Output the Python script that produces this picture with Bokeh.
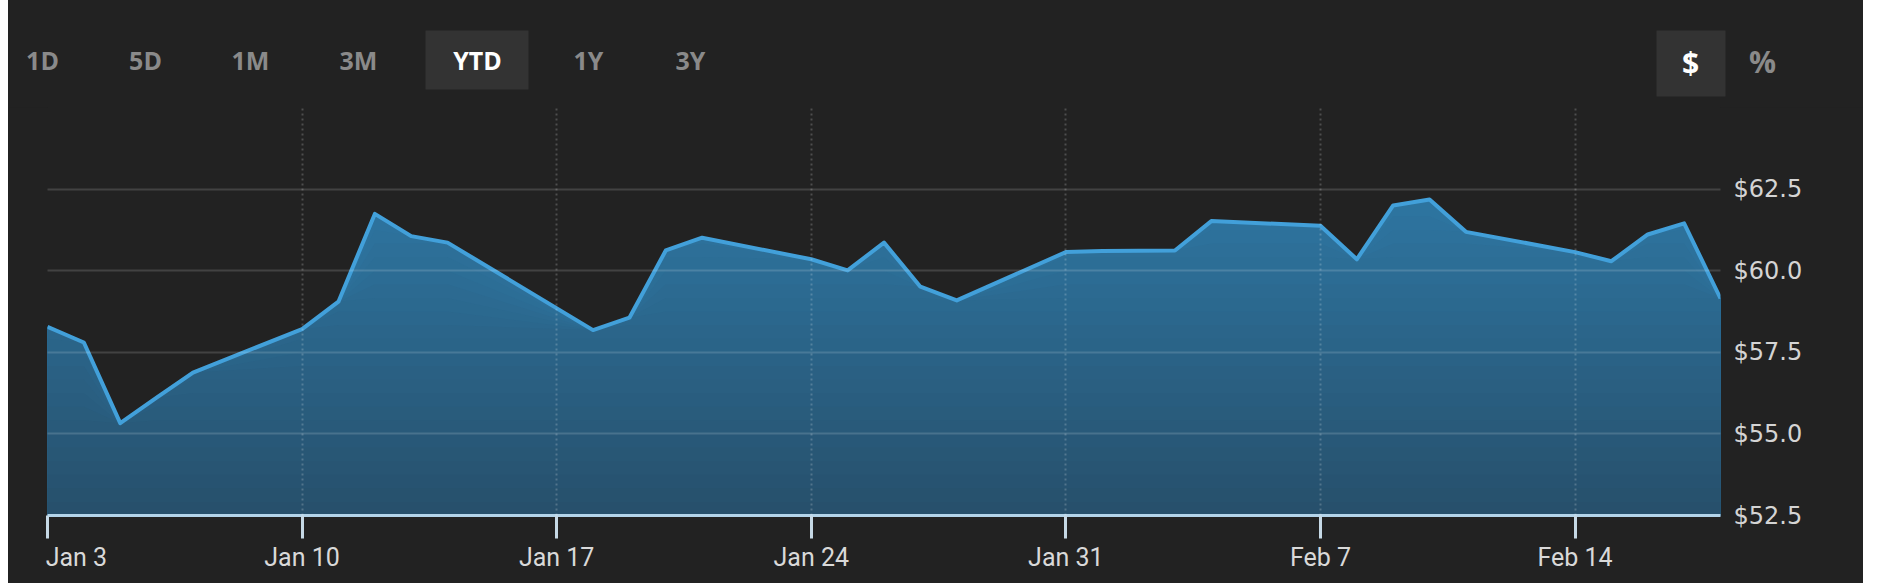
import numpy as np
import pandas as pd
from bokeh.plotting import figure
from bokeh.models import (Range1d, FixedTicker, DatetimeTickFormatter, NumeralTickFormatter,
                          LinearAxis)
from bokeh.core.properties import value
from bokeh.embed import file_html
from bokeh.resources import INLINE

# ---------------- data ----------------
dates = ["2022-01-03", "2022-01-04", "2022-01-05", "2022-01-06", "2022-01-07",
         "2022-01-10", "2022-01-11", "2022-01-12", "2022-01-13", "2022-01-14",
         "2022-01-18", "2022-01-19", "2022-01-20", "2022-01-21",
         "2022-01-24", "2022-01-25", "2022-01-26", "2022-01-27", "2022-01-28",
         "2022-01-31", "2022-02-01", "2022-02-02", "2022-02-03", "2022-02-04",
         "2022-02-07", "2022-02-08", "2022-02-09", "2022-02-10", "2022-02-11",
         "2022-02-14", "2022-02-15", "2022-02-16", "2022-02-17", "2022-02-18"]
prices = [58.28, 57.80, 55.33, 56.11, 56.88,
          58.21, 59.05, 61.74, 61.06, 60.86,
          58.18, 58.56, 60.62, 61.01,
          60.35, 60.01, 60.86, 59.51, 59.09,
          60.57, 60.60, 60.61, 60.62, 61.52,
          61.38, 60.35, 62.00, 62.18, 61.19,
          60.57, 60.29, 61.11, 61.45, 59.15]
x_tick_dates = ["2022-01-03", "2022-01-10", "2022-01-17", "2022-01-24",
                "2022-01-31", "2022-02-07", "2022-02-14"]
x_tick_labels = ["Jan 3", "Jan 10", "Jan 17", "Jan 24", "Jan 31", "Feb 7", "Feb 14"]
y_grid_values = [52.5, 55.0, 57.5, 60.0, 62.5, 65.0]
y_tick_values = [52.5, 55.0, 57.5, 60.0, 62.5]
range_buttons = ["1D", "5D", "1M", "3M", "YTD", "1Y", "3Y"]
active_range = "YTD"
unit_buttons = ["$", "%"]
active_unit = "$"

x = pd.to_datetime(dates)
y = np.array(prices)
y_lo, y_hi = y_grid_values[0], y_grid_values[-1]
x_ticks_ms = [pd.Timestamp(d).value / 1e6 for d in x_tick_dates]

BG = "#222222"
LEFT = 8            # page margin on the left
W = 1855            # width of the dark panel
HEAD_H = 107

# ---------------- header with the selector buttons (page pixel coordinates) ----------------
head = figure(width=W, height=HEAD_H, output_backend="svg", toolbar_location=None,
              x_range=Range1d(LEFT, LEFT + W), y_range=Range1d(HEAD_H, 0),
              x_axis_location=None, y_axis_location=None,
              min_border_left=0, min_border_right=0, min_border_top=0, min_border_bottom=0)
head.background_fill_color = BG
head.border_fill_color = BG
head.outline_line_color = None
head.xgrid.visible = False
head.ygrid.visible = False

btn_cx = [42, 145, 250, 358, 477, 588, 690]
head.quad(left=[425, 1656], right=[528, 1725], top=[30, 30], bottom=[89, 96],
          fill_color="#333333", line_color=None)
head.text(x=btn_cx, y=[59] * len(range_buttons), text=range_buttons,
          text_color=["#ffffff" if b == active_range else "#8a8a8a" for b in range_buttons],
          text_align="center", text_baseline="middle",
          text_font=value("Open Sans"), text_font_style="bold", text_font_size="25px")
head.text(x=[1690, 1762], y=[62, 61], text=unit_buttons,
          text_color=["#ffffff" if b == active_unit else "#8a8a8a" for b in unit_buttons],
          text_align="center", text_baseline="middle",
          text_font=value("Open Sans"), text_font_style="bold", text_font_size="30px")

# ---------------- main chart ----------------
p = figure(width=W, height=583 - HEAD_H, x_axis_type="datetime", output_backend="svg",
           toolbar_location=None, y_axis_location=None,
           x_range=Range1d(x[0], x[-1]), y_range=Range1d(y_lo, y_hi),
           min_border_left=47 - LEFT, min_border_right=LEFT + W - 1720,
           min_border_top=0, min_border_bottom=68)
p.background_fill_color = BG
p.border_fill_color = BG
p.outline_line_color = None

# gradient area: full area in the light top colour, then darker slices from below
top_c = np.array([0x30, 0x80, 0xb0])
bot_c = np.array([0x27, 0x4f, 0x6a])
n_bands = 30
levels = np.linspace(y_hi, y_lo, n_bands + 1)[:-1]
for lev in levels:
    t = (lev - y_lo) / (y_hi - y_lo)
    c = (bot_c + (top_c - bot_c) * t).astype(int)
    col = "#%02x%02x%02x" % tuple(c)
    p.varea(x=x, y1=y_lo, y2=np.minimum(y, lev), fill_color=col, fill_alpha=1.0)

p.line(x=x, y=y, line_color="#42a0da", line_width=4, line_join="round")

# grids
p.ygrid.ticker = FixedTicker(ticks=y_grid_values)
p.ygrid.grid_line_color = "#ffffff"
p.ygrid.grid_line_alpha = 0.15
p.ygrid.grid_line_width = 2
p.ygrid.level = "overlay"
p.xgrid.ticker = FixedTicker(ticks=x_ticks_ms)
p.xgrid.grid_line_color = "#ffffff"
p.xgrid.grid_line_alpha = 0.2
p.xgrid.grid_line_width = 2
p.xgrid.grid_line_dash = "2 3"
p.xgrid.level = "overlay"

# x axis; the first label starts at its tick (padded with no-break spaces)
xa = p.xaxis[0]
xa.ticker = FixedTicker(ticks=x_ticks_ms)
xa.formatter = DatetimeTickFormatter(days="%b %-d", months="%b %-d")
xa.major_label_overrides = {ms: (("\u00a0" * 6 + lab) if i == 0 else lab)
                            for i, (ms, lab) in enumerate(zip(x_ticks_ms, x_tick_labels))}
xa.axis_line_color = "#b3d4ea"
xa.axis_line_width = 3
xa.major_tick_line_color = "#c6d9e6"
xa.major_tick_line_width = 3
xa.major_tick_out = 23
xa.major_tick_in = 0
xa.minor_tick_line_color = None
xa.major_label_text_font = "Roboto"
xa.major_label_text_font_size = "25px"
xa.major_label_text_color = "#d9d9d9"
xa.major_label_standoff = 4

# y axis on the right
ya = LinearAxis(ticker=FixedTicker(ticks=y_tick_values),
                formatter=NumeralTickFormatter(format="$0.0"))
ya.axis_line_color = None
ya.major_tick_line_color = None
ya.minor_tick_line_color = None
ya.major_label_text_font = "DejaVu Sans"
ya.major_label_text_font_size = "24px"
ya.major_label_text_color = "#d4d4d4"
ya.major_label_standoff = 7
p.add_layout(ya, "right")

page_style = """{% block preamble %}
<style>
  html { background: #ffffff !important; }
  body { margin: 0 !important; border-left: 8px solid #ffffff !important;
         box-sizing: border-box !important; width: 1863px !important;
         background: #222222 !important; }
</style>
{% endblock %}"""

open("out.html", "w").write(file_html([head, p], INLINE, template=page_style))
